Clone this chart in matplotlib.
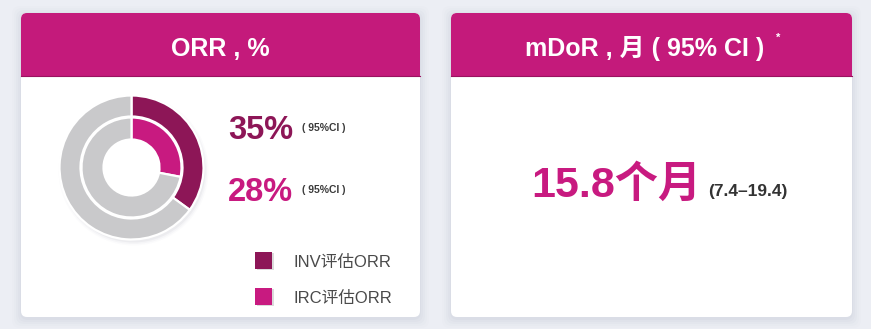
import matplotlib
matplotlib.use("Agg")
import matplotlib.pyplot as plt
from matplotlib.patches import FancyBboxPatch, Rectangle, Circle

# ---- data ----
orr_labels = ["INV评估ORR", "IRC评估ORR"]
orr_values = [35, 28]          # percent responders
mdor_value = 15.8              # months
mdor_ci = (7.4, 19.4)

# ---- styling ----
BG = "#eceef4"
HEADER = "#c41a7b"
DARK = "#8d1657"
PINK = "#c81a80"
GREY = "#c9c9cb"
FONTS = ["Liberation Sans", "Noto Sans CJK SC", "DejaVu Sans"]
plt.rcParams["font.family"] = FONTS

W, H = 871, 329
fig = plt.figure(figsize=(W / 100, H / 100), dpi=100, facecolor=BG)

# canvas axes in pixel coordinates (origin top-left)
cv = fig.add_axes([0, 0, 1, 1])
cv.set_xlim(0, W)
cv.set_ylim(H, 0)
cv.axis("off")


def card(x0, x1, y0, y1, header_h):
    # soft drop shadow
    for i, a in enumerate([0.05, 0.04, 0.03, 0.02, 0.015]):
        g = 2 + i * 2
        cv.add_patch(FancyBboxPatch((x0 - g + 1, y0 - g + 3), x1 - x0 + 2 * g - 2, y1 - y0 + 2 * g - 2,
                                    boxstyle="round,pad=0,rounding_size=8",
                                    fc="#8088a8", ec="none", alpha=a, zorder=1))
    cv.add_patch(FancyBboxPatch((x0, y0), x1 - x0, y1 - y0,
                                boxstyle="round,pad=0,rounding_size=6",
                                fc="white", ec="none", zorder=2))
    # header band: rounded top, square bottom
    cv.add_patch(FancyBboxPatch((x0, y0), x1 - x0, header_h,
                                boxstyle="round,pad=0,rounding_size=6",
                                fc=HEADER, ec="none", zorder=3))
    cv.add_patch(Rectangle((x0, y0 + header_h - 10), x1 - x0, 10,
                           fc=HEADER, ec="none", zorder=3))
    cv.plot([x0, x1], [y0 + header_h, y0 + header_h], color="#9a1260", lw=0.8, zorder=4)


card(21, 420, 13, 317, 63)
card(451, 852, 13, 317, 63)

# headers
cv.text(220.5, 56, "ORR , %", color="white", fontsize=18, fontweight="bold",
        ha="center", va="baseline", zorder=5)
cv.text(645, 56, "mDoR , 月 ( 95% CI )", color="white", fontsize=18, fontweight="bold",
        ha="center", va="baseline", zorder=5)
cv.text(778, 41, "*", color="white", fontsize=8, fontweight="bold",
        ha="center", va="baseline", zorder=5)

# ORR values
val_colors = [DARK, PINK]
val_base = [139, 201]
for v, c, y in zip(orr_values, val_colors, val_base):
    cv.text(228, y, f"{v}%", color=c, fontsize=23.5, fontweight="bold",
            ha="left", va="baseline", zorder=5)
    cv.text(302, y - 8, "( 95%CI )", color="#3a3a3a", fontsize=7.5, fontweight="bold",
            ha="left", va="baseline", zorder=5)

# legend
leg_base = [267, 303]
for lab, c, y in zip(orr_labels, val_colors, leg_base):
    cv.add_patch(Rectangle((257, y - 14), 17, 17, fc="#999999", alpha=0.35, ec="none", zorder=4))
    cv.add_patch(Rectangle((255, y - 15), 17, 17, fc=c, ec="none", zorder=5))
    cv.text(293, y, lab, color="#4a4a4a", fontsize=12,
            ha="left", va="baseline", zorder=5)

# mDoR value
cv.text(531, 197, f"{mdor_value}个月", color=PINK, fontsize=31, fontweight="bold",
        ha="left", va="baseline", zorder=5)
cv.text(708, 196, f"({mdor_ci[0]}–{mdor_ci[1]})", color="#333333", fontsize=12.5,
        fontweight="bold", ha="left", va="baseline", zorder=5)

# donut chart
cx, cy, half = 131.5, 167.5, 80
dx = fig.add_axes([(cx - half) / W, 1 - (cy + half) / H, 2 * half / W, 2 * half / H])
dx.set_zorder(5)
dx.axis("off")

# faint shadow behind the rings, kept out of the hole
for i, a in enumerate([0.06, 0.04, 0.025]):
    dx.add_patch(Circle((2, -3), 72 + i * 1.5, fc="#707080", ec="none", alpha=a, zorder=0))
dx.add_patch(Circle((0, 0), 29, fc="white", ec="none", zorder=0.5))

wp = dict(edgecolor="white", linewidth=1.6)
outer_v = [orr_values[0], 100 - orr_values[0]]
inner_v = [orr_values[1], 100 - orr_values[1]]
dx.pie(outer_v, colors=[DARK, GREY], radius=72, startangle=90, counterclock=False,
       wedgeprops=dict(width=21, **wp))
dx.pie(inner_v, colors=[PINK, GREY], radius=50, startangle=90, counterclock=False,
       wedgeprops=dict(width=22, **wp))
dx.set_xlim(-half, half)
dx.set_ylim(-half, half)
dx.set_aspect("equal")

fig.savefig("out.png", dpi=100, facecolor=BG)
